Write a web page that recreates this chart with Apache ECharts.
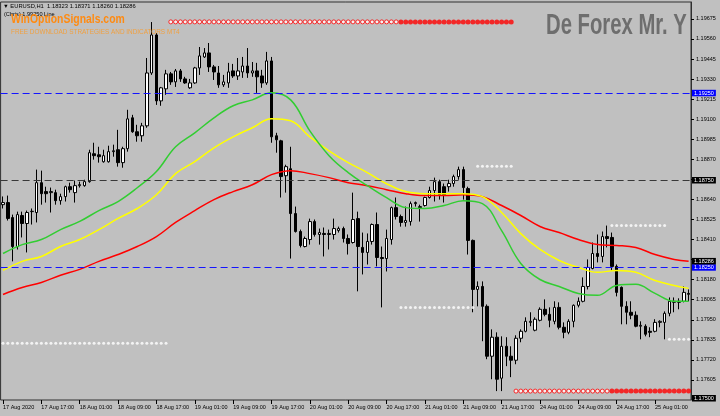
<!DOCTYPE html>
<html><head><meta charset="utf-8">
<script src="https://cdn.jsdelivr.net/npm/echarts@6/dist/echarts.min.js"></script>
<style>html,body{margin:0;padding:0;background:#C0C0C0}#c{width:720px;height:416px}</style>
</head><body><div id="c"></div>
<script>
// ---- DATA ----
const xLabels = ['17 Aug 2020','17 Aug 17:00','18 Aug 01:00','18 Aug 09:00','18 Aug 17:00','19 Aug 01:00','19 Aug 09:00','19 Aug 17:00','20 Aug 01:00','20 Aug 09:00','20 Aug 17:00','21 Aug 01:00','21 Aug 09:00','21 Aug 17:00','24 Aug 01:00','24 Aug 09:00','24 Aug 17:00','25 Aug 01:00'];
const yTickLabels = ['1.17605','1.17720','1.17835','1.17950','1.18065','1.18180','1.18410','1.18525','1.18640','1.18870','1.18985','1.19100','1.19215','1.19330','1.19445','1.19560','1.19675'];

const opens = [1.18610,1.18622,1.18536,1.18370,1.18548,1.18502,1.18570,1.18565,1.18736,1.18685,1.18679,1.18679,1.18633,1.18656,1.18713,1.18679,1.18719,1.18719,1.18742,1.18902,
1.18896,1.18856,1.18856,1.18914,1.18925,1.18851,1.18931,1.19108,1.19028,1.19005,1.19062,1.19365,1.19583,1.19205,1.19274,1.19360,1.19314,1.19377,1.19331,1.19280,
1.19308,1.19394,1.19457,1.19480,1.19400,1.19365,1.19297,1.19308,1.19377,1.19348,1.19371,1.19405,1.19365,1.19377,1.19348,1.19308,1.19434,1.19005,1.18976,1.18776,
1.18816,1.18559,1.18456,1.18370,1.18410,1.18513,1.18439,1.18445,1.18439,1.18439,1.18462,1.18473,1.18416,1.18393,1.18530,1.18365,1.18336,1.18399,1.18496,1.18307,
1.18301,1.18410,1.18593,1.18542,1.18508,1.18513,1.18616,1.18593,1.18605,1.18651,1.18691,1.18742,1.18713,1.18713,1.18731,1.18771,1.18811,1.18702,1.18405,1.18124,
1.18141,1.18027,1.17741,1.17850,1.17615,1.17798,1.17741,1.17718,1.17844,1.17884,1.17935,1.17890,1.17947,1.18010,1.17981,1.17941,1.18021,1.17907,1.17878,1.17941,
1.18033,1.18056,1.18141,1.18244,1.18330,1.18313,1.18427,1.18422,1.18256,1.18136,1.18027,1.17993,1.17976,1.17913,1.17913,1.17884,1.17884,1.17935,1.17935,1.17987,
1.18050,1.18050,1.18056,1.18101];
const closes = [1.18622,1.18531,1.18370,1.18553,1.18502,1.18565,1.18572,1.18736,1.18673,1.18673,1.18685,1.18633,1.18656,1.18713,1.18696,1.18719,1.18725,1.18742,1.18908,1.18891,
1.18885,1.18891,1.18914,1.18919,1.18851,1.18931,1.19102,1.19028,1.19005,1.19062,1.19365,1.19583,1.19205,1.19280,1.19360,1.19314,1.19377,1.19331,1.19308,1.19308,
1.19394,1.19463,1.19480,1.19400,1.19371,1.19297,1.19314,1.19371,1.19348,1.19377,1.19405,1.19365,1.19377,1.19343,1.19308,1.19434,1.18999,1.18982,1.18771,1.18828,
1.18559,1.18456,1.18376,1.18416,1.18513,1.18439,1.18450,1.18439,1.18445,1.18473,1.18473,1.18416,1.18387,1.18525,1.18370,1.18336,1.18399,1.18496,1.18307,1.18301,
1.18416,1.18593,1.18542,1.18508,1.18519,1.18616,1.18622,1.18599,1.18651,1.18691,1.18742,1.18668,1.18668,1.18731,1.18771,1.18811,1.18708,1.18405,1.18124,1.18141,
1.18027,1.17741,1.17850,1.17609,1.17798,1.17741,1.17718,1.17844,1.17884,1.17941,1.17941,1.17953,1.18010,1.17981,1.17947,1.18021,1.17907,1.17878,1.17941,1.18033,
1.18056,1.18141,1.18250,1.18330,1.18313,1.18427,1.18416,1.18256,1.18107,1.18027,1.17993,1.17976,1.17913,1.17918,1.17867,1.17878,1.17935,1.17941,1.17987,1.18056,
1.18056,1.18056,1.18107,1.18096];
const lows = [1.18588,1.18519,1.18285,1.18353,1.18422,1.18336,1.18496,1.18508,1.18610,1.18622,1.18565,1.18610,1.18610,1.18628,1.18679,1.18622,1.18708,1.18713,1.18736,1.18868,
1.18851,1.18851,1.18851,1.18885,1.18828,1.18822,1.18914,1.19022,1.18971,1.18971,1.19051,1.19354,1.19182,1.19177,1.19240,1.19297,1.19285,1.19314,1.19303,1.19274,
1.19303,1.19354,1.19451,1.19371,1.19325,1.19280,1.19285,1.19280,1.19337,1.19325,1.19337,1.19337,1.19343,1.19251,1.19280,1.19297,1.18965,1.18908,1.18651,1.18679,
1.18301,1.18450,1.18365,1.18365,1.18381,1.18427,1.18381,1.18313,1.18353,1.18410,1.18450,1.18393,1.18324,1.18387,1.18113,1.18210,1.18267,1.18381,1.18256,1.18021,
1.18227,1.18381,1.18525,1.18484,1.18484,1.18490,1.18599,1.18513,1.18599,1.18645,1.18628,1.18639,1.18622,1.18685,1.18713,1.18753,1.18639,1.18324,1.17993,1.18027,
1.17827,1.17724,1.17609,1.17541,1.17541,1.17684,1.17621,1.17695,1.17821,1.17878,1.17913,1.17884,1.17941,1.17970,1.17907,1.17924,1.17895,1.17844,1.17867,1.17907,
1.18021,1.18050,1.18124,1.18239,1.18279,1.18279,1.18365,1.18233,1.18084,1.17924,1.17924,1.17953,1.17907,1.17838,1.17855,1.17850,1.17878,1.17907,1.17838,1.17970,
1.17993,1.18010,1.18050,1.18056];
const highs = [1.18657,1.18662,1.18553,1.18570,1.18570,1.18576,1.18588,1.18811,1.18805,1.18713,1.18708,1.18696,1.18673,1.18719,1.18736,1.18748,1.18742,1.18753,1.18925,1.18965,
1.18942,1.18925,1.18948,1.18954,1.19039,1.18942,1.19154,1.19125,1.19068,1.19079,1.19451,1.19657,1.19594,1.19285,1.19383,1.19371,1.19388,1.19388,1.19343,1.19331,
1.19400,1.19514,1.19508,1.19537,1.19411,1.19405,1.19354,1.19423,1.19417,1.19451,1.19457,1.19508,1.19428,1.19423,1.19383,1.19486,1.19457,1.19022,1.18982,1.18839,
1.18942,1.18599,1.18467,1.18427,1.18530,1.18525,1.18473,1.18479,1.18467,1.18530,1.18484,1.18484,1.18439,1.18679,1.18570,1.18450,1.18445,1.18502,1.18565,1.18370,
1.18467,1.18599,1.18651,1.18553,1.18599,1.18628,1.18628,1.18610,1.18656,1.18713,1.18765,1.18753,1.18731,1.18753,1.18782,1.18828,1.18828,1.18713,1.18410,1.18170,
1.18170,1.18038,1.17895,1.17878,1.17855,1.17850,1.17798,1.17861,1.17895,1.17964,1.17993,1.17964,1.18021,1.18067,1.18021,1.18056,1.18050,1.17935,1.17953,1.18038,
1.18078,1.18193,1.18296,1.18393,1.18439,1.18456,1.18490,1.18450,1.18267,1.18141,1.18056,1.18056,1.17998,1.17941,1.17924,1.17907,1.17953,1.17947,1.17998,1.18078,
1.18078,1.18073,1.18141,1.18124];

// moving averages read at these bar indices
const maIdx = [0,4,8,12,16,20,24,28,32,36,40,44,48,52,56,60,64,68,72,76,80,84,88,92,96,100,104,108,112,116,120,124,128,132,136,140,143];
const maGreen = [1.18330,1.18381,1.18410,1.18467,1.18514,1.18576,1.18628,1.18707,1.18800,1.18942,1.19022,1.19108,1.19177,1.19211,1.19251,1.19211,1.19033,1.18891,1.18794,1.18719,1.18650,1.18593,1.18588,1.18605,1.18633,1.18616,1.18461,1.18273,1.18181,1.18141,1.18101,1.18090,1.18147,1.18153,1.18101,1.18056,1.18056];
const maYellow = [1.18233,1.18285,1.18313,1.18370,1.18410,1.18467,1.18531,1.18588,1.18667,1.18788,1.18857,1.18936,1.18999,1.19051,1.19103,1.19091,1.18999,1.18919,1.18851,1.18794,1.18730,1.18685,1.18673,1.18673,1.18673,1.18656,1.18565,1.18444,1.18353,1.18290,1.18250,1.18222,1.18233,1.18222,1.18175,1.18147,1.18130];
const maRed = [1.18095,1.18135,1.18164,1.18205,1.18239,1.18285,1.18324,1.18370,1.18427,1.18508,1.18576,1.18639,1.18685,1.18724,1.18782,1.18805,1.18788,1.18765,1.18736,1.18719,1.18696,1.18673,1.18662,1.18662,1.18667,1.18656,1.18605,1.18548,1.18485,1.18450,1.18410,1.18381,1.18376,1.18364,1.18324,1.18296,1.18285];

// indicator dot rows: [firstBar, lastBar, level]
const whiteDots = [[0,34,1.17815],[83,98,1.18021],[99,106,1.18830],[127,138,1.18490],[139,143,1.17838]];
const redHollow = [[35,82,1.19658],[107,126,1.17541]];
const redSolid = [[83,106,1.19658],[127,143,1.17541]];

// horizontal levels
const blueLevels = [1.19250, 1.18250];
const grayLevels = [1.18750];
const priceTags = [1.18286, 1.17500];

// ---- BUILD ----
const cats = opens.map((_, i) => String(i));
const candles = opens.map((o, i) => [o, closes[i], lows[i], highs[i]]);
const maData = arr => arr.map((v, k) => [maIdx[k], v]);
const expand = segs => { const out = []; segs.forEach(([a, b, v]) => { for (let i = a; i <= b; i++) out.push([i, v]); }); return out; };
const FONT = 'Liberation Sans';
const tagLabel = (bg) => ({show: true, position: 'end', distance: 1, formatter: p => Number(p.value).toFixed(5),
  color: '#fff', backgroundColor: bg, fontSize: 5.5, fontFamily: FONT, padding: [0.5, 2, 0, 2], lineHeight: 6});

const markData = [];
blueLevels.forEach(v => markData.push({yAxis: v, lineStyle: {color: '#1414FF', width: 1.2, type: [7, 4], opacity: 1}, label: tagLabel('#0000FF')}));
grayLevels.forEach(v => markData.push({yAxis: v, lineStyle: {color: '#383838', width: 1, type: [7, 4], opacity: 1}, label: tagLabel('#000000')}));
priceTags.forEach(v => markData.push({yAxis: v, lineStyle: {color: 'rgba(0,0,0,0)', width: 1, type: 'solid'}, label: tagLabel('#000000')}));

const chart = echarts.init(document.getElementById('c'), null, {renderer: 'canvas'});
chart.setOption({
  animation: false,
  backgroundColor: '#C0C0C0',
  grid: {left: 0, right: 29, top: 2, bottom: 16, show: true, borderColor: '#303030', borderWidth: 1},
  xAxis: {
    type: 'category', data: cats, boundaryGap: true,
    axisLine: {show: false},
    axisTick: {show: true, interval: 7, alignWithLabel: true, length: 4, lineStyle: {color: '#000'}},
    axisLabel: {interval: 7, align: 'left', fontSize: 5.5, fontFamily: FONT, color: '#000', margin: 4,
      formatter: (v, i) => (i % 8 === 0 ? xLabels[i / 8] : '')},
    splitLine: {show: false}
  },
  yAxis: {
    type: 'value', position: 'right', min: 1.17490, max: 1.19772, interval: 0.00115,
    axisLine: {show: true, lineStyle: {color: '#303030'}},
    axisTick: {show: true, length: 3, lineStyle: {color: '#000'}},
    axisLabel: {fontSize: 5.5, fontFamily: FONT, color: '#000', margin: 5, showMaxLabel: false, showMinLabel: false, hideOverlap: false,
      formatter: v => { const s = v.toFixed(5); return yTickLabels.includes(s) ? s : ''; }},
    splitLine: {show: false}
  },
  series: [
    {type: 'candlestick', data: candles, barWidth: 3, z: 2,
      itemStyle: {color: '#FFFFFF', color0: '#000000', borderColor: '#000000', borderColor0: '#000000', borderWidth: 1},
      markLine: {symbol: ['none', 'none'], precision: 5, silent: true, animation: false, data: markData}},
    {type: 'line', data: maData(maRed), showSymbol: false, smooth: 0.4, z: 3, lineStyle: {color: '#FF0000', width: 1.5}},
    {type: 'line', data: maData(maYellow), showSymbol: false, smooth: 0.4, z: 3, lineStyle: {color: '#FFFF00', width: 1.5}},
    {type: 'line', data: maData(maGreen), showSymbol: false, smooth: 0.4, z: 3, lineStyle: {color: '#32CD32', width: 1.5}},
    {type: 'scatter', data: expand(whiteDots), symbol: 'circle', symbolSize: 3, z: 4, itemStyle: {color: '#FFFFFF'}},
    {type: 'scatter', data: expand(redHollow), symbol: 'circle', symbolSize: 4, z: 4, itemStyle: {color: '#FFFFFF', borderColor: '#FF0000', borderWidth: 1}},
    {type: 'scatter', data: expand(redSolid), symbol: 'circle', symbolSize: 5, z: 4, itemStyle: {color: '#FF0000'}}
  ],
  graphic: [
    {type: 'text', x: 3, y: 3, z: 10, style: {text: '\u25BC EURUSD,H1  1.18323 1.18371 1.18260 1.18286', font: '5.8px "Liberation Sans"', fill: '#000', verticalAlign: 'top'}},
    {type: 'text', x: 4, y: 11, z: 10, style: {text: '(Chris) 1.99250 Line', font: '5.6px "Liberation Sans"', fill: '#000', verticalAlign: 'top'}},
    {type: 'text', x: 11, y: 19.5, z: 11, scaleX: 0.8, style: {text: 'WinOptionSignals.com', font: 'bold 13px "Liberation Sans"', fill: '#FF8A10', verticalAlign: 'middle'}},
    {type: 'text', x: 11, y: 32.5, z: 11, style: {text: 'FREE DOWNLOAD STRATEGIES AND INDICATORS MT4', font: '6.4px "Liberation Sans"', fill: '#F0A040', verticalAlign: 'middle'}},
    {type: 'text', x: 546, y: 26, z: 11, scaleX: 0.676, style: {text: 'De Forex Mr. Y', font: 'bold 30px "Liberation Sans"', fill: '#6E6E6E', verticalAlign: 'middle'}}
  ]
});
</script></body></html>
